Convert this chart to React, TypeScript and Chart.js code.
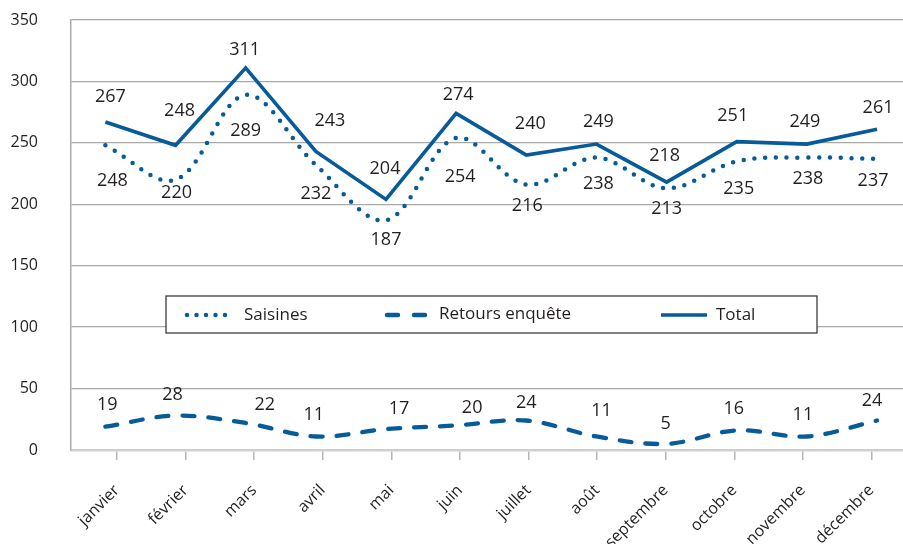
import React, { useEffect, useRef } from 'react';
import { Chart, registerables } from 'chart.js';

Chart.register(...registerables);

// ---- Data ----
const months = ['janvier', 'février', 'mars', 'avril', 'mai', 'juin', 'juillet', 'août', 'septembre', 'octobre', 'novembre', 'décembre'];
const saisines = [248, 220, 289, 232, 187, 254, 216, 238, 213, 235, 238, 237];
const retours = [19, 28, 22, 11, 17, 20, 24, 11, 5, 16, 11, 24];
const total = [267, 248, 311, 243, 204, 274, 240, 249, 218, 251, 249, 261];
const seriesNames = ['Saisines', 'Retours enquête', 'Total'];
const yMin = 0;
const yMax = 350;
const yStep = 50;

// ---- Styling ----
const BLUE = '#065b98';
const TEXT = '#231f20';
const GRID = '#a9a9a9';
const FONT = '"Open Sans", "DejaVu Sans", sans-serif';

// label offsets (dx, dy) relative to each point, per series
const saisinesLabelOff: [number, number][] = [[7, 36], [1, 13], [0, 36], [0, 29], [0, 20], [4, 39], [1, 21], [2, 26], [0, 21], [2, 28], [1, 21], [-4, 22]];
const retoursLabelOff: [number, number][] = [[2, -22], [-3, -21], [19, -18], [-2, -22], [13, -20], [16, -18], [0, -18], [5, -26], [-1, -20], [-3, -21], [-4, -22], [-5, -20]];
const totalLabelOff: [number, number][] = [[5, -25], [4, -34], [-1, -18], [14, -31], [-1, -30], [2, -18], [4, -31], [2, -22], [-2, -26], [-4, -26], [-2, -22], [1, -21]];
const labelOffsets = [saisinesLabelOff, retoursLabelOff, totalLabelOff];

const valueLabelPlugin = {
  id: 'valueLabels',
  afterDatasetsDraw(chart: any) {
    const ctx = chart.ctx;
    ctx.save();
    ctx.font = `18px ${FONT}`;
    ctx.fillStyle = TEXT;
    ctx.textAlign = 'center';
    ctx.textBaseline = 'middle';
    chart.data.datasets.forEach((ds: any, di: number) => {
      const meta = chart.getDatasetMeta(di);
      const offs = labelOffsets[di];
      meta.data.forEach((pt: any, i: number) => {
        const [dx, dy] = offs[i];
        ctx.fillText(String(ds.data[i].y), pt.x + dx, pt.y + dy);
      });
    });
    ctx.restore();
  },
};

const legendBoxPlugin = {
  id: 'legendBox',
  afterDatasetsDraw(chart: any) {
    const ctx = chart.ctx;
    ctx.save();
    const bx = 166, by = 296, bw = 651, bh = 37;
    ctx.fillStyle = '#ffffff';
    ctx.fillRect(bx, by, bw, bh);
    ctx.strokeStyle = '#3c3c3c';
    ctx.lineWidth = 1.3;
    ctx.strokeRect(bx, by, bw, bh);
    const cy = 315;
    ctx.strokeStyle = BLUE;
    // dotted sample
    ctx.lineCap = 'round';
    ctx.lineWidth = 4.5;
    ctx.setLineDash([0, 9.5]);
    ctx.beginPath();
    ctx.moveTo(187, cy);
    ctx.lineTo(225.5, cy);
    ctx.stroke();
    // dashed sample
    ctx.setLineDash([]);
    ctx.lineWidth = 4.5;
    ctx.beginPath();
    ctx.moveTo(387, cy);
    ctx.lineTo(398, cy);
    ctx.moveTo(414, cy);
    ctx.lineTo(425, cy);
    ctx.stroke();
    // solid sample
    ctx.lineCap = 'butt';
    ctx.lineWidth = 3.5;
    ctx.beginPath();
    ctx.moveTo(661, cy);
    ctx.lineTo(707, cy);
    ctx.stroke();
    // texts
    ctx.fillStyle = TEXT;
    ctx.font = `17px ${FONT}`;
    ctx.textAlign = 'left';
    ctx.textBaseline = 'middle';
    ctx.fillText(seriesNames[0], 244, cy);
    ctx.fillText(seriesNames[1], 439, cy - 1);
    ctx.fillText(seriesNames[2], 716, cy);
    ctx.restore();
  },
};

export default function App() {
  const ref = useRef<HTMLCanvasElement | null>(null);

  useEffect(() => {
    document.body.style.margin = '0';
    const canvas = ref.current;
    if (!canvas) return;
    const toPts = (arr: number[]) => arr.map((v, i) => ({ x: i, y: v }));
    const chart = new Chart(canvas, {
      type: 'line',
      data: {
        datasets: [
          {
            label: seriesNames[0],
            data: toPts(saisines),
            xAxisID: 'x',
            yAxisID: 'y',
            borderColor: BLUE,
            borderWidth: 4.5,
            borderDash: [0, 10.8],
            borderCapStyle: 'round',
            tension: 0.35,
            pointRadius: 0,
            fill: false,
          },
          {
            label: seriesNames[1],
            data: toPts(retours),
            xAxisID: 'x',
            yAxisID: 'y',
            borderColor: BLUE,
            borderWidth: 4.3,
            borderDash: [12, 14],
            borderCapStyle: 'round',
            tension: 0.35,
            pointRadius: 0,
            fill: false,
          },
          {
            label: seriesNames[2],
            data: toPts(total),
            xAxisID: 'x',
            yAxisID: 'y',
            borderColor: BLUE,
            borderWidth: 3.6,
            tension: 0,
            pointRadius: 0,
            fill: false,
            borderJoinStyle: 'miter',
          },
        ],
      },
      options: {
        animation: false,
        responsive: false,
        devicePixelRatio: 1,
        layout: { padding: { top: 20, right: 0, left: 0, bottom: 0 } },
        plugins: {
          legend: { display: false },
          tooltip: { enabled: false },
        },
        scales: {
          x: {
            type: 'linear',
            display: false,
            min: -0.49,
            max: 11.37,
          },
          x2: {
            type: 'linear',
            position: 'bottom',
            min: -0.67,
            max: 11.46,
            afterFit: (s: any) => { s.height = 94; s.paddingLeft = 0; s.paddingRight = 0; },
            grid: {
              display: true,
              drawOnChartArea: false,
              drawTicks: true,
              tickLength: 10,
              color: '#b5b5b5',
              lineWidth: 1.5,
            },
            border: { display: true, color: '#cfcfcf', width: 2.5 },
            ticks: {
              stepSize: 1,
              maxTicksLimit: 30,
              includeBounds: false,
              autoSkip: false,
              minRotation: 45,
              maxRotation: 45,
              padding: 21,
              color: TEXT,
              font: { family: FONT, size: 16 },
              callback: (v: any) => (Number.isInteger(v) && months[v] !== undefined ? months[v] : ''),
            },
          },
          y: {
            type: 'linear',
            min: yMin,
            max: yMax,
            afterFit: (s: any) => { s.width = 71; s.paddingTop = 20; s.paddingBottom = 0; },
            grid: {
              color: GRID,
              lineWidth: 1.3,
              drawTicks: false,
            },
            border: { display: true, color: GRID, width: 1.5 },
            ticks: {
              stepSize: yStep,
              padding: 33,
              color: TEXT,
              font: { family: FONT, size: 16 },
            },
          },
        },
      },
      plugins: [valueLabelPlugin, legendBoxPlugin],
    } as any);
    return () => chart.destroy();
  }, []);

  return (
    <div style={{ width: 903, height: 544 }}>
      <canvas ref={ref} width={903} height={544} style={{ display: 'block', width: 903, height: 544 }} />
    </div>
  );
}
